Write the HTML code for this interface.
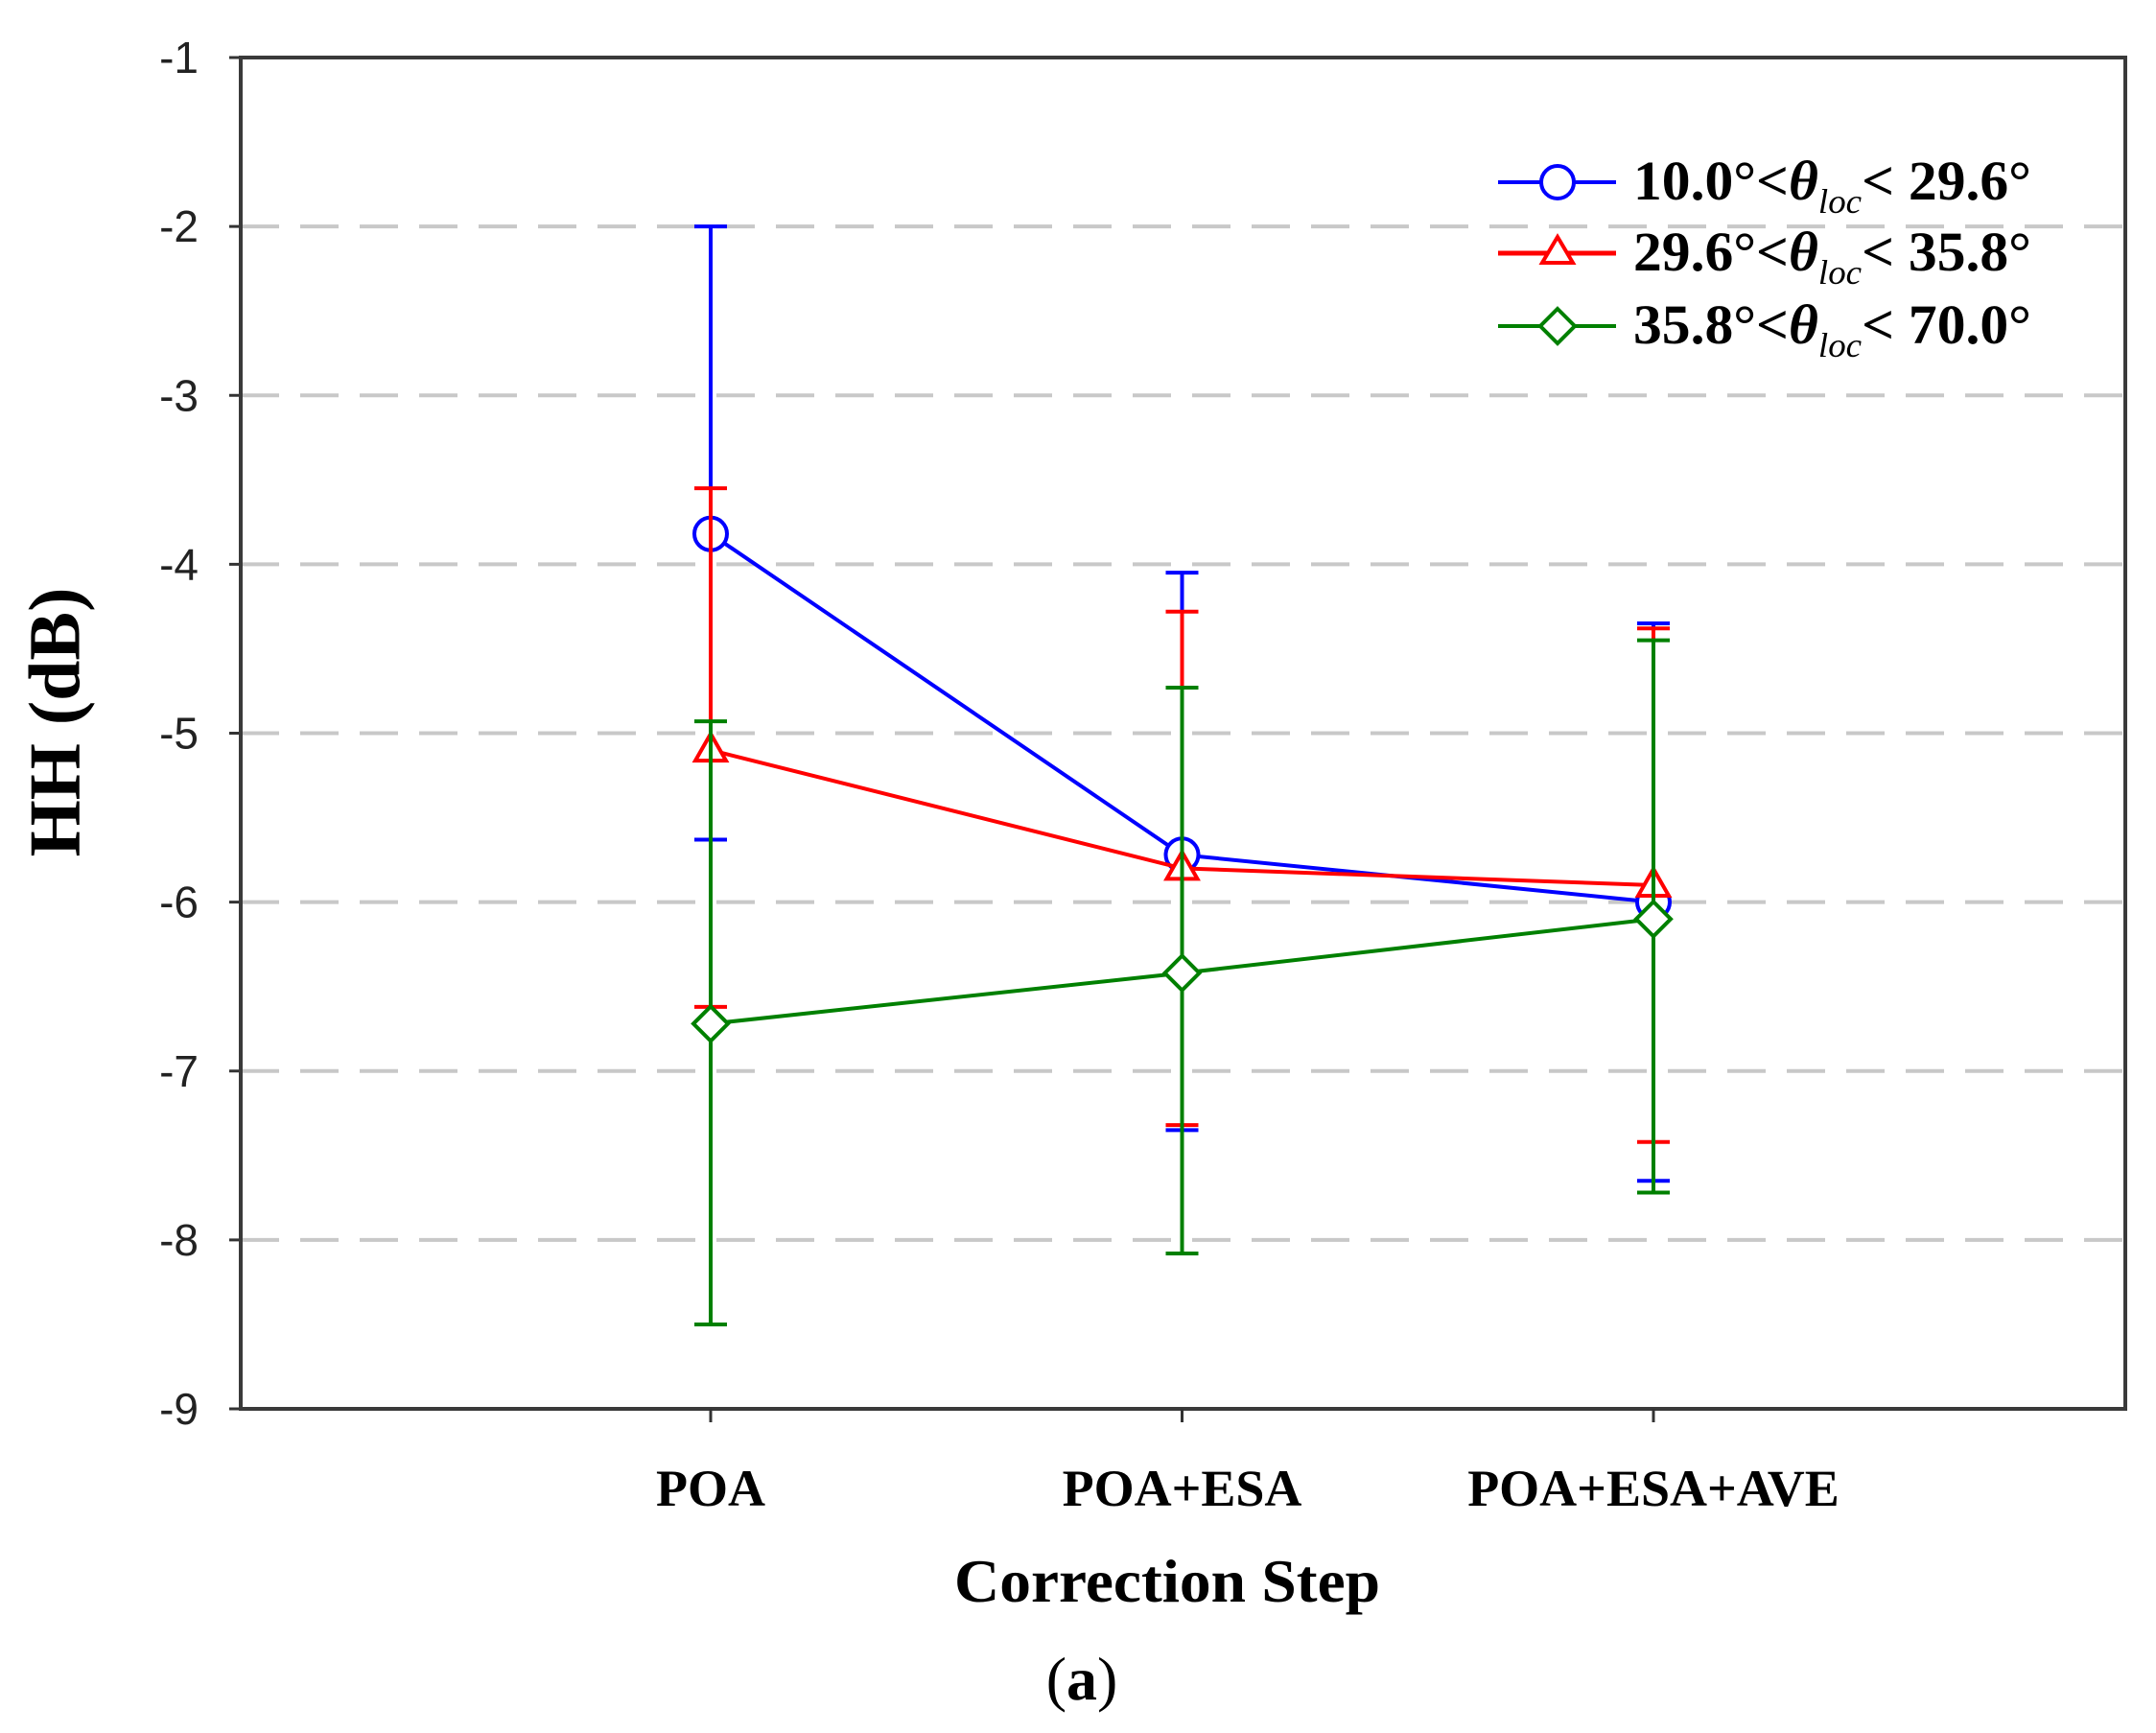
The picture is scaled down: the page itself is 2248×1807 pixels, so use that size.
<!DOCTYPE html>
<html><head><meta charset="utf-8"><style>
html,body{margin:0;padding:0;background:#fff;}
svg{display:block;}
</style></head><body>
<svg id="chart" width="2248" height="1807" viewBox="0 0 2248 1807" xmlns="http://www.w3.org/2000/svg">
<g id="grid"></g>
<g id="axes"></g>
<g id="series"></g>
<g id="legend" font-family="Liberation Serif, serif" font-weight="bold" font-size="58">
  <g>
    <line x1="1562" y1="190" x2="1685" y2="190" stroke="#0000ff" stroke-width="4"/>
    <circle cx="1624" cy="190" r="17" fill="#fff" stroke="#0000ff" stroke-width="4"/>
    <text x="1703" y="208" textLength="415" lengthAdjust="spacingAndGlyphs">10.0°&lt;<tspan font-style="italic">θ</tspan><tspan font-style="italic" font-weight="normal" font-size="36" dy="14">loc</tspan><tspan dy="-14">&lt; 29.6°</tspan></text>
  </g>
  <g>
    <line x1="1562" y1="264" x2="1685" y2="264" stroke="#ff0000" stroke-width="5"/>
    <polygon points="1624,247 1640,274 1608,274" fill="#fff" stroke="#ff0000" stroke-width="4"/>
    <text x="1703" y="282" textLength="415" lengthAdjust="spacingAndGlyphs">29.6°&lt;<tspan font-style="italic">θ</tspan><tspan font-style="italic" font-weight="normal" font-size="36" dy="14">loc</tspan><tspan dy="-14">&lt; 35.8°</tspan></text>
  </g>
  <g>
    <line x1="1562" y1="340" x2="1685" y2="340" stroke="#008000" stroke-width="4"/>
    <polygon points="1624,322 1642,340 1624,358 1606,340" fill="#fff" stroke="#008000" stroke-width="4"/>
    <text x="1703" y="358" textLength="415" lengthAdjust="spacingAndGlyphs">35.8°&lt;<tspan font-style="italic">θ</tspan><tspan font-style="italic" font-weight="normal" font-size="36" dy="14">loc</tspan><tspan dy="-14">&lt; 70.0°</tspan></text>
  </g>
</g>
<text x="65" y="753" transform="rotate(-90 65 753)" text-anchor="middle" dominant-baseline="middle" font-family="Liberation Serif, serif" font-weight="bold" font-size="76">HH (dB)</text>
<text x="1217" y="1670" text-anchor="middle" font-family="Liberation Serif, serif" font-weight="bold" font-size="64" textLength="444" lengthAdjust="spacingAndGlyphs">Correction Step</text>
<text x="1128" y="1772" text-anchor="middle" font-family="Liberation Serif, serif" font-size="64">(<tspan font-weight="bold">a</tspan>)</text>
</svg>
<script>
const categories = ["POA", "POA+ESA", "POA+ESA+AVE"];
const yTicks = [-1, -2, -3, -4, -5, -6, -7, -8, -9];
const blueMean = [-3.82, -5.72, -6.0];
const blueHigh = [-2.0, -4.05, -4.35];
const blueLow = [-5.63, -7.35, -7.65];
const redMean = [-5.1, -5.8, -5.9];
const redHigh = [-3.55, -4.28, -4.38];
const redLow = [-6.62, -7.32, -7.42];
const greenMean = [-6.72, -6.42, -6.1];
const greenHigh = [-4.93, -4.73, -4.45];
const greenLow = [-8.5, -8.08, -7.72];

const NS = "http://www.w3.org/2000/svg";
const L = 251, R = 2216, T = 60, B = 1469;
const xs = i => 741 + i * 491.5;
const ys = v => T + (-1 - v) / 8 * (B - T);
function mk(parent, tag, attrs) {
  const e = document.createElementNS(NS, tag);
  for (const k in attrs) e.setAttribute(k, attrs[k]);
  parent.appendChild(e);
  return e;
}
const grid = document.getElementById('grid');
const axes = document.getElementById('axes');
const series = document.getElementById('series');

yTicks.forEach(v => {
  const y = ys(v);
  if (v !== -1 && v !== -9) {
    const g = mk(grid, 'line', {x1: L, y1: y, x2: R, y2: y, stroke: '#c8c8c8', 'stroke-width': 4, 'stroke-dasharray': '40 22'});
    
    
  }
  const t = mk(axes, 'line', {x1: L - 12, y1: y, x2: L, y2: y, stroke: '#333', 'stroke-width': 3});
  
  
  const lb = mk(axes, 'text', {x: 207, y: y + 16, 'text-anchor': 'end', 'font-family': 'Liberation Sans, sans-serif', 'font-size': 46, fill: '#222'});
  lb.textContent = v;
  
  
});
const frame = mk(axes, 'rect', {x: L, y: T, width: R - L, height: B - T, fill: 'none', stroke: '#3a3a3a', 'stroke-width': 4});


categories.forEach((c, i) => {
  const x = xs(i);
  const t = mk(axes, 'line', {x1: x, y1: B, x2: x, y2: B + 14, stroke: '#333', 'stroke-width': 3});
  
  
  const lb = mk(axes, 'text', {x: x, y: 1570, 'text-anchor': 'middle', 'font-family': 'Liberation Serif, serif', 'font-weight': 'bold', 'font-size': 54});
  lb.textContent = c;
  
  
});

function drawSeries(name, color, mean, hi, lo, marker) {
  const g = mk(series, 'g', {});
  
  
  mean.forEach((m, i) => {
    const x = xs(i);
    const eb = mk(g, 'path', {d: `M${x},${ys(hi[i])}V${ys(lo[i])}M${x-17},${ys(hi[i])}H${x+17}M${x-17},${ys(lo[i])}H${x+17}`, stroke: color, 'stroke-width': 4, fill: 'none'});
    
    
  });
  const pl = mk(g, 'polyline', {points: mean.map((m, i) => xs(i) + ',' + ys(m)).join(' '), stroke: color, 'stroke-width': 4, fill: 'none'});
  
  
  mean.forEach((m, i) => {
    const x = xs(i), y = ys(m);
    let e;
    if (marker === 'circle') e = mk(g, 'circle', {cx: x, cy: y, r: 17});
    else if (marker === 'tri') e = mk(g, 'polygon', {points: `${x},${y-17} ${x+16},${y+11} ${x-16},${y+11}`});
    else e = mk(g, 'polygon', {points: `${x},${y-18} ${x+18},${y} ${x},${y+18} ${x-18},${y}`});
    e.setAttribute('fill', '#fff');
    e.setAttribute('stroke', color);
    e.setAttribute('stroke-width', 4);
    
    
  });
}
drawSeries('blue', '#0000ff', blueMean, blueHigh, blueLow, 'circle');
drawSeries('red', '#ff0000', redMean, redHigh, redLow, 'tri');
drawSeries('green', '#008000', greenMean, greenHigh, greenLow, 'diamond');
</script>
</body></html>
